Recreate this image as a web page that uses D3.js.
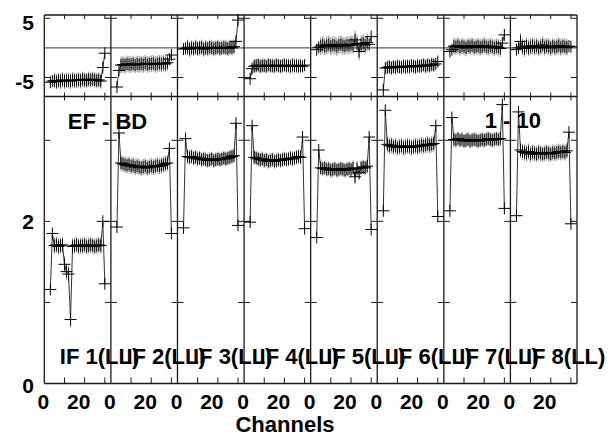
<!DOCTYPE html>
<html><head><meta charset="utf-8">
<script src="https://cdn.jsdelivr.net/npm/d3@7"></script>
<style>
html,body{margin:0;padding:0;background:#fff;}
text{font-family:"Liberation Sans",Arial,sans-serif;font-weight:bold;fill:#000;}
</style></head>
<body>
<svg id="c" width="615" height="437"></svg>
<script>
// ---- data ----
const channels = [3,4,5,6,7,8,9,10,11,12,13,14,15,16,17,18,19,20,21,22,23,24,25,26,27,28,29,30];
const ifLabels = ["IF 1(LL)","IF 2(LL)","IF 3(LL)","IF 4(LL)","IF 5(LL)","IF 6(LL)","IF 7(LL)","IF 8(LL)"];
const xTickLabels = [0, 20];
const phaseTickLabels = [5, -5];
const ampTickLabels = [2, 0];
const baselineLabel = "EF - BD";
const timeLabel = "1 - 10";
const xTitle = "Channels";

const phase1 = [-5.8,-5.6,-5.5,-5.7,-5.5,-5.6,-5.4,-5.6,-5.5,-5.5,-5.6,-5.4,-5.5,-5.5,-5.4,-5.5,-5.3,-5.4,-5.5,-5.3,-5.4,-5.3,-5.4,-5.5,-5.4,-5.6,-3.3,-0.9];
const phase2 = [-6.6,-3.8,-2.9,-2.8,-2.9,-2.7,-2.8,-2.8,-2.7,-2.9,-2.7,-2.8,-2.7,-2.8,-2.6,-2.8,-2.7,-2.7,-2.6,-2.8,-2.7,-2.6,-2.7,-2.6,-2.7,-2.5,-1.9,-1.2];
const phase3 = [-0.2,-0.1,0.1,-0.2,0.0,-0.1,0.1,-0.1,0.0,0.1,-0.2,0.0,-0.1,0.1,0.0,-0.1,0.0,0.1,-0.1,0.0,0.1,0.0,-0.1,0.1,0.0,0.2,1.1,4.7];
const phase4 = [-5.2,-3.5,-3.1,-3.0,-2.9,-3.1,-3.0,-3.0,-3.1,-2.9,-3.0,-3.0,-3.1,-2.9,-3.0,-3.1,-3.0,-2.9,-3.0,-3.0,-3.1,-2.9,-3.0,-3.0,-3.1,-3.0,-3.1,-2.9];
const phase5 = [-0.3,0.1,0.3,0.5,0.2,0.4,0.6,0.3,0.5,0.4,0.2,0.5,0.6,0.4,0.3,0.5,0.4,0.6,0.5,1.35,0.7,-0.6,0.6,0.8,0.5,0.9,0.6,1.9];
const phase6 = [-7.1,-3.4,-3.3,-3.2,-3.4,-3.2,-3.3,-3.1,-3.2,-3.3,-3.1,-3.2,-3.1,-3.2,-3.0,-3.1,-3.2,-3.0,-3.1,-3.0,-2.9,-3.1,-2.9,-3.0,-2.8,-2.9,-2.7,-2.3];
const phase7 = [-0.6,-0.3,0.3,0.2,0.4,0.1,0.3,0.2,0.0,0.3,0.2,0.4,0.1,0.2,0.3,0.1,0.2,0.4,0.2,0.1,0.3,0.2,0.0,0.2,0.1,-0.1,0.8,2.2];
const phase8 = [-0.3,0.0,1.1,0.2,-0.1,0.3,0.0,0.2,0.4,0.1,0.3,0.0,0.2,0.5,0.1,0.3,0.2,0.0,0.3,0.1,0.2,0.4,0.1,0.3,0.2,0.1,0.3,0.2];

const amp1 = [1.16,1.85,1.70,1.71,1.69,1.70,1.71,1.47,1.38,1.35,0.79,1.69,1.70,1.71,1.69,1.70,1.70,1.71,1.69,1.70,1.71,1.70,1.69,1.70,1.71,1.70,2.00,1.23];
const amp2 = [1.93,3.09,2.72,2.71,2.70,2.69,2.70,2.68,2.69,2.67,2.68,2.67,2.66,2.67,2.68,2.66,2.67,2.68,2.67,2.68,2.69,2.68,2.69,2.70,2.71,2.72,2.90,1.85];
const amp3 = [1.92,3.02,2.80,2.79,2.80,2.78,2.79,2.77,2.78,2.76,2.77,2.76,2.75,2.76,2.77,2.75,2.76,2.77,2.76,2.77,2.78,2.77,2.78,2.79,2.80,2.81,3.21,1.95];
const amp4 = [1.99,3.18,2.79,2.78,2.77,2.76,2.77,2.75,2.76,2.74,2.75,2.76,2.74,2.75,2.76,2.75,2.76,2.77,2.76,2.77,2.78,2.77,2.78,2.79,2.80,2.79,3.04,1.91];
const amp5 = [1.80,2.88,2.66,2.65,2.66,2.64,2.65,2.63,2.64,2.65,2.63,2.64,2.65,2.64,2.63,2.64,2.65,2.64,2.66,2.55,2.65,2.60,2.66,2.67,2.66,2.68,3.04,1.90];
const amp6 = [2.13,3.37,2.95,2.93,2.94,2.92,2.93,2.91,2.92,2.93,2.91,2.92,2.93,2.92,2.91,2.92,2.93,2.92,2.93,2.94,2.93,2.94,2.95,2.94,2.95,2.96,3.18,2.06];
const amp7 = [2.13,3.28,3.01,3.00,3.02,3.00,3.01,2.99,3.00,3.01,2.99,3.00,3.01,3.00,2.99,3.00,3.01,3.00,3.01,3.02,3.01,3.00,3.01,3.02,3.01,3.02,3.44,2.16];
const amp8 = [2.07,3.35,2.88,2.86,2.85,2.84,2.86,2.83,2.85,2.84,2.83,2.85,2.84,2.83,2.84,2.85,2.84,2.83,2.85,2.84,2.85,2.86,2.85,2.86,2.85,2.87,3.10,1.97];

// one-sigma errors per IF (edge channels are drawn without error bars)
const phaseErr = [1.3, 1.4, 1.3, 1.2, 1.5, 1.2, 1.4, 1.4];
const ampErr = [0.10, 0.10, 0.09, 0.09, 0.09, 0.10, 0.09, 0.10];

const phases = [phase1,phase2,phase3,phase4,phase5,phase6,phase7,phase8];
const amps = [amp1,amp2,amp3,amp4,amp5,amp6,amp7,amp8];

// ---- layout ----
const F = {left:44.3, right:577, top:15, mid:96.5, bottom:383.5};
const nIF = ifLabels.length;
const svg = d3.select("#c");

const xp = d3.scaleLinear().domain([0, nIF]).range([F.left, F.right]);
const xCh = i => d3.scaleLinear().domain([0, 33]).range([xp(i), xp(i+1)]);
const yP = d3.scaleLinear().domain([-8.2, 5.55]).range([F.mid, F.top]);
const yA = d3.scaleLinear().domain([0, 3.54]).range([F.bottom, F.mid]);

const g = svg.append("g");
const frameColor = "#1a1a1a";

// zero phase line
g.append("line").attr("x1",F.left).attr("x2",F.right).attr("y1",yP(0)).attr("y2",yP(0))
  .attr("stroke","#333").attr("stroke-width",1);

// horizontal frame lines
[F.top, F.mid, F.bottom].forEach(y=>{
  g.append("line").attr("x1",F.left).attr("x2",F.right).attr("y1",y).attr("y2",y)
    .attr("stroke",frameColor).attr("stroke-width",1.3);
});
// vertical panel lines
d3.range(nIF+1).forEach(i=>{
  g.append("line").attr("x1",xp(i)).attr("x2",xp(i)).attr("y1",F.top).attr("y2",F.bottom)
    .attr("stroke",frameColor).attr("stroke-width",1.3);
});

// ticks along horizontal lines
const chTicks = [10,20,30];
d3.range(nIF).forEach(i=>{
  const x = xCh(i);
  chTicks.forEach(t=>{
    const xx = x(t);
    g.append("line").attr("x1",xx).attr("x2",xx).attr("y1",F.top).attr("y2",F.top+4).attr("stroke",frameColor);
    g.append("line").attr("x1",xx).attr("x2",xx).attr("y1",F.mid-4).attr("y2",F.mid+4).attr("stroke",frameColor);
    g.append("line").attr("x1",xx).attr("x2",xx).attr("y1",F.bottom-6).attr("y2",F.bottom).attr("stroke",frameColor);
  });
});
// ticks on vertical lines
const yTickPos = [yP(5), yP(-5), yA(1), yA(2), yA(3)];
d3.range(nIF+1).forEach(i=>{
  const xx = xp(i);
  const l = (i===0) ? 0 : 6, r = (i===nIF) ? 0 : 6;
  yTickPos.forEach(y=>{
    g.append("line").attr("x1",xx-l).attr("x2",xx+r).attr("y1",y).attr("y2",y).attr("stroke",frameColor);
  });
});

// ---- data marks ----
d3.range(nIF).forEach(i=>{
  const x = xCh(i);
  const pts = channels.map((c,k)=>({c, p:phases[i][k], a:amps[i][k], k}));
  const inner = pts.filter(d=>d.k>=2 && d.k<channels.length-2);
  const pg = g.append("g");
  // error bars
  pg.selectAll(".ep").data(inner).join("line")
    .attr("x1",d=>x(d.c)).attr("x2",d=>x(d.c))
    .attr("y1",d=>yP(d.p-phaseErr[i])).attr("y2",d=>yP(d.p+phaseErr[i]))
    .attr("stroke","#8a8a8a").attr("stroke-width",1);
  pg.selectAll(".ea").data(inner).join("line")
    .attr("x1",d=>x(d.c)).attr("x2",d=>x(d.c))
    .attr("y1",d=>yA(d.a-ampErr[i])).attr("y2",d=>yA(d.a+ampErr[i]))
    .attr("stroke","#8a8a8a").attr("stroke-width",1);
  // connecting lines
  pg.append("path").datum(pts).attr("fill","none").attr("stroke","#333").attr("stroke-width",1)
    .attr("d", d3.line().x(d=>x(d.c)).y(d=>yP(d.p)));
  pg.append("path").datum(pts).attr("fill","none").attr("stroke","#333").attr("stroke-width",1)
    .attr("d", d3.line().x(d=>x(d.c)).y(d=>yA(d.a)));
  // plus markers
  const s = 6;
  const plus = (cx,cy)=>`M${cx-s},${cy}H${cx+s}M${cx},${cy-s}V${cy+s}`;
  pg.append("path").attr("fill","none").attr("stroke","#000").attr("stroke-width",1)
    .attr("d", pts.map(d=>plus(x(d.c),yP(d.p))).join("")+pts.map(d=>plus(x(d.c),yA(d.a))).join(""));
});

// ---- text ----
// x tick labels
const xLabelShift = {0:-1, 20:-6};
d3.range(nIF).forEach(i=>{
  const x = xCh(i);
  xTickLabels.forEach(v=>{
    g.append("text").attr("x", x(v)+xLabelShift[v]).attr("y", 409)
      .attr("text-anchor","middle").attr("font-size",21).text(v);
  });
});
// y tick labels
phaseTickLabels.forEach(v=>{
  g.append("text").attr("x",34).attr("y",yP(v)+3.8).attr("dy","0.36em")
    .attr("text-anchor","end").attr("font-size",21).text(v);
});
ampTickLabels.forEach(v=>{
  g.append("text").attr("x",34).attr("y",yA(v)+(v===0?2:0)).attr("dy","0.36em")
    .attr("text-anchor","end").attr("font-size",21).text(v);
});
g.append("text").attr("x",285).attr("y",432).attr("text-anchor","middle").attr("font-size",22).text(xTitle);

// in-plot labels
g.append("text").attr("x",xp(0)+23.5).attr("y",129).attr("font-size",22).text(baselineLabel);
g.append("text").attr("x",541).attr("y",128).attr("text-anchor","end").attr("font-size",22).text(timeLabel);
d3.range(nIF).forEach(i=>{
  g.append("text").attr("x",xp(i)+15.5).attr("y",363.5).attr("font-size",22).text(ifLabels[i]);
});
</script>
</body></html>
